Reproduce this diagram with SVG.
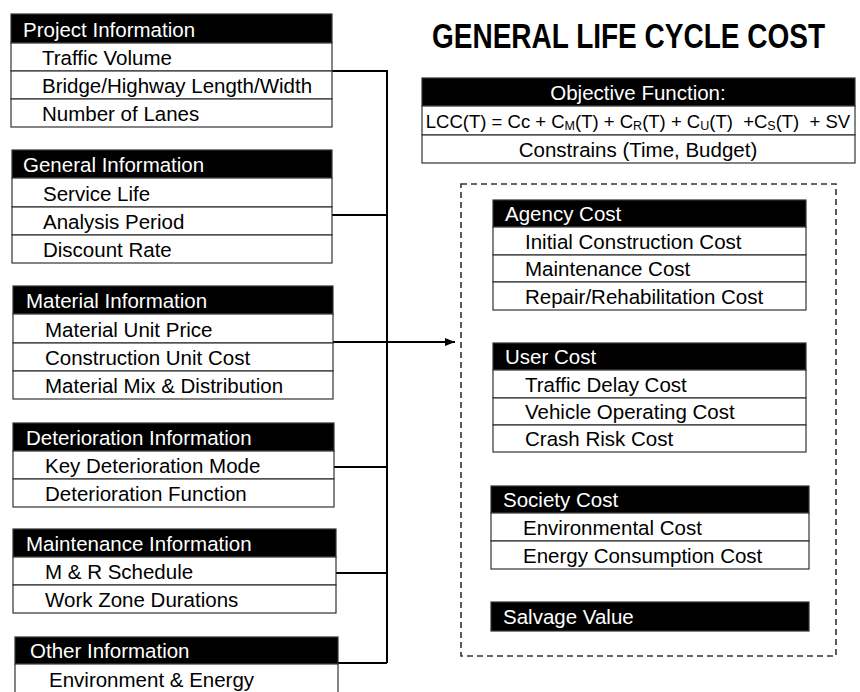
<svg xmlns="http://www.w3.org/2000/svg" width="860" height="692" viewBox="0 0 860 692">
<defs>
<style>
.hd{fill:#000;stroke:#333;stroke-width:1.2}
.row{fill:#fff;stroke:#333;stroke-width:1.2}
.ht{font-family:"Liberation Sans",Arial,sans-serif;font-size:20.5px;fill:#fff}
.it{font-family:"Liberation Sans",Arial,sans-serif;font-size:20.5px;fill:#000}
.ct{font-family:"Liberation Sans",Arial,sans-serif;font-size:20.5px;fill:#000;text-anchor:middle}
.fx{font-family:"Liberation Sans",Arial,sans-serif;font-size:18.5px;fill:#000;text-anchor:middle}
.title{font-family:"Liberation Sans",Arial,sans-serif;font-size:28px;font-weight:bold;fill:#000}
.con{stroke:#000;stroke-width:2;fill:none}
.dash{fill:none;stroke:#333;stroke-width:1.6;stroke-dasharray:6 4}
</style>
<marker id="arr" markerWidth="10" markerHeight="8" refX="10" refY="4" orient="auto" markerUnits="userSpaceOnUse">
<path d="M0,0 L10,4 L0,8 Z" fill="#000"/>
</marker>
</defs>
<rect width="860" height="692" fill="#fff"/>

<text class="title" transform="translate(432,48) scale(1,1.25)" x="0" y="0">GENERAL LIFE CYCLE COST</text>

<g id="connectors">
<path class="con" d="M332,71 H387 V663 M332,215 H387 M334,467 H387 M336,573 H387 M338,663 H387"/>
<path class="con" d="M333,342 H455" marker-end="url(#arr)"/>
</g>

<g id="project">
<rect class="hd" x="11" y="14" width="321" height="29"/>
<rect class="row" x="11" y="43" width="321" height="28"/>
<rect class="row" x="11" y="71" width="321" height="28"/>
<rect class="row" x="11" y="99" width="321" height="28"/>
<text class="ht" x="23" y="37">Project Information</text>
<text class="it" x="42" y="65">Traffic Volume</text>
<text class="it" x="42" y="93">Bridge/Highway Length/Width</text>
<text class="it" x="42" y="121">Number of Lanes</text>
</g>

<g id="general">
<rect class="hd" x="12" y="150" width="320" height="28"/>
<rect class="row" x="12" y="178" width="320" height="29"/>
<rect class="row" x="12" y="207" width="320" height="28"/>
<rect class="row" x="12" y="235" width="320" height="28"/>
<text class="ht" x="23" y="172">General Information</text>
<text class="it" x="43" y="201">Service Life</text>
<text class="it" x="43" y="229">Analysis Period</text>
<text class="it" x="43" y="257">Discount Rate</text>
</g>

<g id="material">
<rect class="hd" x="13" y="286" width="320" height="28"/>
<rect class="row" x="13" y="314" width="320" height="29"/>
<rect class="row" x="13" y="343" width="320" height="28"/>
<rect class="row" x="13" y="371" width="320" height="28"/>
<text class="ht" x="26" y="308">Material Information</text>
<text class="it" x="45" y="337">Material Unit Price</text>
<text class="it" x="45" y="365">Construction Unit Cost</text>
<text class="it" x="45" y="393">Material Mix &amp; Distribution</text>
</g>

<g id="deterioration">
<rect class="hd" x="13" y="423" width="321" height="28"/>
<rect class="row" x="13" y="451" width="321" height="28"/>
<rect class="row" x="13" y="479" width="321" height="28"/>
<text class="ht" x="26" y="445">Deterioration Information</text>
<text class="it" x="45" y="473">Key Deterioration Mode</text>
<text class="it" x="45" y="501">Deterioration Function</text>
</g>

<g id="maintenance">
<rect class="hd" x="13" y="529" width="323" height="28"/>
<rect class="row" x="13" y="557" width="323" height="28"/>
<rect class="row" x="13" y="585" width="323" height="28"/>
<text class="ht" x="26" y="551">Maintenance Information</text>
<text class="it" x="45" y="579">M &amp; R Schedule</text>
<text class="it" x="45" y="607">Work Zone Durations</text>
</g>

<g id="other">
<rect class="hd" x="15" y="637" width="323" height="27"/>
<rect class="row" x="15" y="664" width="323" height="32"/>
<text class="ht" x="30" y="658">Other Information</text>
<text class="it" x="49" y="687">Environment &amp; Energy</text>
</g>

<g id="objective">
<rect class="hd" x="422" y="78" width="433" height="28"/>
<rect class="row" x="422" y="106" width="433" height="29"/>
<rect class="row" x="422" y="135" width="433" height="28"/>
<text class="ct" x="638" y="100" style="fill:#fff">Objective Function:</text>
<text class="fx" x="638" y="128" xml:space="preserve">LCC(T) = Cc + C<tspan font-size="12.5" dy="2">M</tspan><tspan dy="-2">(T) + C</tspan><tspan font-size="12.5" dy="2">R</tspan><tspan dy="-2">(T) + C</tspan><tspan font-size="12.5" dy="2">U</tspan><tspan dy="-2">(T)  +C</tspan><tspan font-size="12.5" dy="2">S</tspan><tspan dy="-2">(T)  + SV</tspan></text>
<text class="ct" x="638" y="157">Constrains (Time, Budget)</text>
</g>

<g id="cost-group">
<rect class="dash" x="461" y="184" width="375" height="472"/>
</g>

<g id="agency">
<rect class="hd" x="493" y="200" width="313" height="27"/>
<rect class="row" x="493" y="227" width="313" height="28"/>
<rect class="row" x="493" y="255" width="313" height="27"/>
<rect class="row" x="493" y="282" width="313" height="28"/>
<text class="ht" x="505" y="221">Agency Cost</text>
<text class="it" x="525" y="249">Initial Construction Cost</text>
<text class="it" x="525" y="276">Maintenance Cost</text>
<text class="it" x="525" y="304">Repair/Rehabilitation Cost</text>
</g>

<g id="user">
<rect class="hd" x="493" y="343" width="313" height="27"/>
<rect class="row" x="493" y="370" width="313" height="28"/>
<rect class="row" x="493" y="398" width="313" height="27"/>
<rect class="row" x="493" y="425" width="313" height="27"/>
<text class="ht" x="505" y="364">User Cost</text>
<text class="it" x="525" y="392">Traffic Delay Cost</text>
<text class="it" x="525" y="419">Vehicle Operating Cost</text>
<text class="it" x="525" y="446">Crash Risk Cost</text>
</g>

<g id="society">
<rect class="hd" x="491" y="486" width="318" height="27"/>
<rect class="row" x="491" y="513" width="318" height="28"/>
<rect class="row" x="491" y="541" width="318" height="28"/>
<text class="ht" x="503" y="507">Society Cost</text>
<text class="it" x="523" y="535">Environmental Cost</text>
<text class="it" x="523" y="563">Energy Consumption Cost</text>
</g>

<g id="salvage">
<rect class="hd" x="491" y="602" width="318" height="29"/>
<text class="ht" x="503" y="624">Salvage Value</text>
</g>
</svg>
